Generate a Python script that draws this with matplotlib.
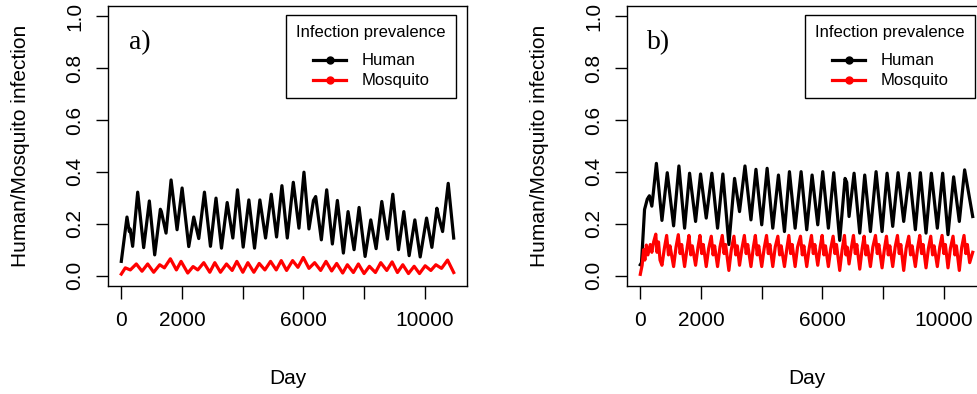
import numpy as np
import matplotlib
matplotlib.use("Agg")
import matplotlib.pyplot as plt

plt.rcParams['font.family'] = ['Liberation Sans', 'DejaVu Sans']

# ---- panel a) data (peaks / troughs read off the figure) ----
a_human_day = [0, 187, 264, 290, 374, 540, 737, 924, 1100, 1287, 1320, 1474, 1640, 1837,
               2003, 2222, 2387, 2552, 2739, 2937, 3120, 3300, 3488, 3674, 3828, 4015,
               4202, 4389, 4565, 4752, 4940, 5115, 5291, 5468, 5666, 5852, 6017, 6182,
               6330, 6403, 6590, 6766, 6953, 7118, 7316, 7470, 7668, 7833, 8031, 8218,
               8394, 8581, 8768, 8944, 9132, 9307, 9482, 9670, 9846, 10056, 10231,
               10396, 10450, 10584, 10769, 10950]
a_human_val = [0.055, 0.226, 0.17, 0.18, 0.113, 0.322, 0.108, 0.288, 0.08, 0.256, 0.247,
               0.164, 0.369, 0.177, 0.338, 0.112, 0.226, 0.143, 0.322, 0.113, 0.299,
               0.106, 0.282, 0.145, 0.331, 0.110, 0.292, 0.106, 0.292, 0.145, 0.314,
               0.149, 0.347, 0.145, 0.360, 0.183, 0.399, 0.180, 0.29, 0.305, 0.138,
               0.331, 0.122, 0.290, 0.087, 0.247, 0.100, 0.263, 0.074, 0.215, 0.104,
               0.286, 0.141, 0.314, 0.100, 0.247, 0.077, 0.215, 0.072, 0.222, 0.109,
               0.260, 0.23, 0.170, 0.356, 0.145]

a_mosq_day = [0, 132, 297, 495, 682, 869, 1067, 1265, 1419, 1617, 1815, 1969, 2189, 2365,
              2519, 2717, 2915, 3080, 3267, 3465, 3652, 3806, 4004, 4169, 4367, 4543,
              4730, 4917, 5104, 5269, 5445, 5643, 5819, 5995, 6182, 6369, 6567, 6743,
              6930, 7095, 7293, 7447, 7645, 7810, 7997, 8173, 8371, 8547, 8745, 8921,
              9097, 9273, 9460, 9647, 9823, 10010, 10197, 10362, 10549, 10747, 10950]
a_mosq_val = [0.006, 0.03, 0.022, 0.045, 0.017, 0.045, 0.013, 0.042, 0.03, 0.065, 0.022,
              0.055, 0.01, 0.035, 0.022, 0.05, 0.013, 0.05, 0.013, 0.045, 0.02, 0.055,
              0.013, 0.05, 0.013, 0.047, 0.022, 0.055, 0.022, 0.058, 0.02, 0.058, 0.032,
              0.07, 0.028, 0.05, 0.02, 0.055, 0.018, 0.047, 0.01, 0.042, 0.012, 0.045,
              0.008, 0.036, 0.012, 0.05, 0.02, 0.053, 0.012, 0.042, 0.008, 0.036, 0.008,
              0.038, 0.02, 0.042, 0.028, 0.06, 0.012]

# ---- panel b) data ----
b_human_day = [0, 40, 140, 230, 300, 380, 430, 530, 713, 888, 1097, 1272, 1459, 1623, 1821,
               1985, 2172, 2358, 2545, 2720, 2918, 3105, 3269, 3448, 3645, 3810, 4000,
               4178, 4364, 4551, 4749, 4913, 5100, 5297, 5483, 5659, 5846, 6010, 6196,
               6372, 6569, 6745, 6800, 6877, 7042, 7229, 7393, 7580, 7767, 7964, 8129,
               8315, 8491, 8677, 8864, 9061, 9226, 9412, 9588, 9785, 9960, 10136, 10322,
               10509, 10684, 10950]
b_human_val = [0.042, 0.05, 0.255, 0.295, 0.308, 0.268, 0.32, 0.433, 0.213, 0.397, 0.192,
               0.423, 0.183, 0.395, 0.209, 0.392, 0.222, 0.395, 0.183, 0.392, 0.12, 0.375,
               0.247, 0.423, 0.215, 0.41, 0.196, 0.414, 0.183, 0.388, 0.17, 0.401, 0.183,
               0.401, 0.177, 0.388, 0.196, 0.401, 0.183, 0.397, 0.136, 0.375, 0.36, 0.228,
               0.395, 0.164, 0.388, 0.17, 0.401, 0.17, 0.395, 0.19, 0.397, 0.209, 0.395,
               0.177, 0.397, 0.164, 0.395, 0.183, 0.395, 0.158, 0.381, 0.209, 0.408, 0.228]

b_mosq_day = [0, 60, 110, 150, 200, 250, 330, 380, 440, 510, 550, 600, 650,
              713, 793, 868, 928, 978,
              1097, 1177, 1252, 1312, 1362,
              1459, 1539, 1603, 1663, 1713,
              1821, 1901, 1965, 2025, 2075,
              2172, 2252, 2338, 2398, 2448,
              2545, 2625, 2700, 2760, 2810,
              2918, 2998, 3085, 3145, 3195,
              3269, 3349, 3428, 3488, 3538,
              3645, 3725, 3790, 3850, 3900,
              4000, 4080, 4158, 4218, 4268,
              4364, 4444, 4531, 4591, 4641,
              4749, 4829, 4893, 4953, 5003,
              5100, 5180, 5277, 5337, 5387,
              5483, 5563, 5639, 5699, 5749,
              5846, 5926, 5990, 6050, 6100,
              6196, 6276, 6352, 6412, 6462,
              6569, 6649, 6725, 6775, 6815,
              6877, 6957, 7022, 7082, 7132,
              7229, 7309, 7373, 7433, 7483,
              7580, 7660, 7747, 7807, 7857,
              7964, 8044, 8109, 8169, 8219,
              8315, 8395, 8471, 8531, 8581,
              8677, 8757, 8844, 8904, 8954,
              9061, 9141, 9206, 9266, 9316,
              9412, 9492, 9568, 9628, 9678,
              9785, 9865, 9940, 10000, 10050,
              10136, 10216, 10302, 10362, 10412,
              10509, 10589, 10664, 10724, 10774,
              10850, 10950]
b_mosq_val = [0.005, 0.04, 0.10, 0.06, 0.118, 0.08, 0.12, 0.09, 0.13, 0.16, 0.09, 0.13, 0.06,
              0.04, 0.105, 0.155, 0.08, 0.115,
              0.035, 0.11, 0.158, 0.085, 0.12,
              0.035, 0.105, 0.155, 0.08, 0.115,
              0.04, 0.11, 0.155, 0.085, 0.12,
              0.035, 0.105, 0.152, 0.08, 0.115,
              0.035, 0.11, 0.155, 0.085, 0.12,
              0.02, 0.10, 0.152, 0.08, 0.115,
              0.04, 0.105, 0.155, 0.085, 0.12,
              0.035, 0.11, 0.155, 0.08, 0.115,
              0.035, 0.105, 0.155, 0.085, 0.12,
              0.035, 0.11, 0.152, 0.08, 0.115,
              0.035, 0.105, 0.155, 0.085, 0.12,
              0.035, 0.11, 0.152, 0.08, 0.115,
              0.035, 0.105, 0.155, 0.085, 0.12,
              0.04, 0.11, 0.155, 0.08, 0.115,
              0.035, 0.105, 0.152, 0.085, 0.12,
              0.02, 0.10, 0.155, 0.08, 0.11,
              0.045, 0.11, 0.155, 0.085, 0.12,
              0.025, 0.105, 0.152, 0.08, 0.115,
              0.035, 0.11, 0.155, 0.085, 0.12,
              0.03, 0.105, 0.152, 0.08, 0.115,
              0.035, 0.11, 0.155, 0.085, 0.12,
              0.02, 0.105, 0.152, 0.08, 0.115,
              0.035, 0.11, 0.155, 0.085, 0.12,
              0.03, 0.105, 0.152, 0.08, 0.115,
              0.035, 0.11, 0.155, 0.085, 0.12,
              0.03, 0.105, 0.152, 0.08, 0.115,
              0.02, 0.11, 0.155, 0.085, 0.12,
              0.05, 0.09]

x_ticks = [0, 2000, 4000, 6000, 8000, 10000]
x_ticklabels = ['0', '2000', '', '6000', '', '10000']
y_ticks = [0.0, 0.2, 0.4, 0.6, 0.8, 1.0]
y_ticklabels = ['0.0', '0.2', '0.4', '0.6', '0.8', '1.0']


def draw_panel(ax, tag, hd, hv, md, mv):
    ax.plot(hd, hv, color='black', lw=2.3, solid_joinstyle='round')
    ax.plot(md, mv, color='#ff0000', lw=2.3, solid_joinstyle='round')

    lo, hi = min(hd), max(hd)
    pad = 0.04 * (hi - lo)
    ax.set_xlim(lo - pad, hi + pad)
    ax.set_ylim(-0.04, 1.04)

    ax.set_xticks(x_ticks)
    ax.set_xticklabels(x_ticklabels)
    ax.set_yticks(y_ticks)
    ax.set_yticklabels(y_ticklabels, rotation=90, va='center')
    ax.tick_params(axis='both', direction='out', length=9, width=1.0,
                   labelsize=15, colors='black')
    ax.tick_params(axis='x', pad=9)
    ax.tick_params(axis='y', pad=8)
    for s in ax.spines.values():
        s.set_linewidth(1.0)

    ax.set_xlabel('Day', fontsize=15)
    ax.xaxis.set_label_coords(0.5, -0.33)
    ax.xaxis.label.set_va('center')
    ax.set_ylabel('Human/Mosquito infection', fontsize=15)
    ax.yaxis.set_label_coords(-0.243, 0.5)
    ax.yaxis.label.set_va('center')

    ax.text(0.089, 0.868, tag, transform=ax.transAxes, ha='center', va='center',
            fontsize=20, family='Liberation Serif')

    hh, = ax.plot([], [], color='black', lw=2.3, marker='o', ms=5)
    hm, = ax.plot([], [], color='#ff0000', lw=2.3, marker='o', ms=5)
    leg = ax.legend([hh, hm], ['Human', 'Mosquito'], title='Infection prevalence\n',
                    loc='upper right', bbox_to_anchor=(0.969, 0.968), borderaxespad=0,
                    fontsize=12, title_fontsize=12, fancybox=False, framealpha=1,
                    edgecolor='black', handlelength=2.0, handletextpad=0.9,
                    labelspacing=0.3, borderpad=0.6, alignment='center')
    leg.get_title().set_linespacing(0.45)
    leg.get_frame().set_linewidth(1.0)


fig = plt.figure(figsize=(9.78, 3.94), dpi=100)
ax_a = fig.add_axes([108 / 978, 108 / 394, 359 / 978, 280 / 394])
ax_b = fig.add_axes([627 / 978, 108 / 394, 359 / 978, 280 / 394])

draw_panel(ax_a, 'a)', a_human_day, a_human_val, a_mosq_day, a_mosq_val)
draw_panel(ax_b, 'b)', b_human_day, b_human_val, b_mosq_day, b_mosq_val)

fig.savefig('out.png', dpi=100)
